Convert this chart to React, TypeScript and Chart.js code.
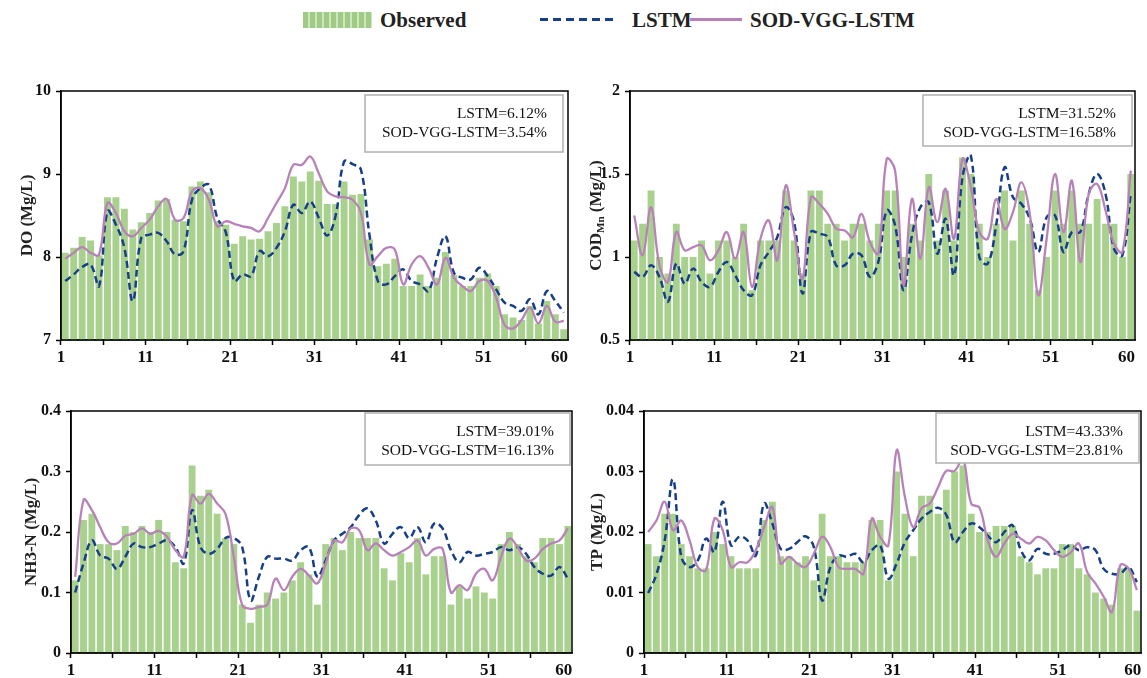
import React, { useEffect, useRef } from 'react';
import { Chart, registerables } from 'chart.js';
Chart.register(...registerables);

const categories = ['1','2','3','4','5','6','7','8','9','10','11','12','13','14','15','16','17','18','19','20','21','22','23','24','25','26','27','28','29','30','31','32','33','34','35','36','37','38','39','40','41','42','43','44','45','46','47','48','49','50','51','52','53','54','55','56','57','58','59','60'];
const xTickLabels = ['1', '11', '21', '31', '41', '51', '60'];

const doObserved = [8.05,8.11,8.24,8.2,8.02,8.72,8.72,8.58,8.33,8.42,8.53,8.68,8.7,8.45,8.43,8.85,8.91,8.78,8.43,8.39,8.16,8.25,8.21,8.22,8.31,8.41,8.61,8.97,8.91,9.03,8.92,8.64,8.64,8.91,8.75,8.76,8.21,7.89,7.92,7.98,7.65,7.65,7.79,7.65,7.75,8.06,7.78,7.65,7.65,7.75,7.8,7.65,7.31,7.27,7.24,7.41,7.2,7.47,7.31,7.13];
const doLSTM = [7.71,7.79,7.88,7.91,7.65,8.55,8.39,8.11,7.47,8.23,8.27,8.29,8.19,8.03,8.07,8.69,8.83,8.87,8.47,8.3,7.71,7.79,7.77,8.07,8.01,8.11,8.31,8.63,8.53,8.67,8.47,8.26,8.5,9.15,9.12,9.05,8.27,7.71,7.67,7.77,7.85,7.71,7.67,7.59,7.99,8.25,7.81,7.75,7.73,7.87,7.77,7.61,7.45,7.41,7.35,7.49,7.31,7.59,7.47,7.33];
const doSOD = [7.98,8.05,8.12,8.05,8.03,8.65,8.53,8.31,8.25,8.35,8.45,8.61,8.7,8.45,8.47,8.79,8.83,8.69,8.37,8.43,8.4,8.37,8.35,8.31,8.47,8.65,8.83,9.11,9.11,9.21,9.01,8.79,8.73,8.72,8.69,8.53,7.91,8.01,8.11,8.09,7.67,7.91,8.01,7.87,7.67,7.99,7.75,7.65,7.59,7.71,7.71,7.51,7.18,7.14,7.24,7.39,7.2,7.41,7.22,7.23];

const codObserved = [1.1,1.2,1.4,1.0,0.9,1.2,1.0,1.0,1.1,0.9,1.1,1.1,1.0,1.2,0.8,1.1,1.1,1.1,1.4,1.1,0.9,1.4,1.4,1.2,1.2,1.1,1.2,1.2,1.1,1.2,1.4,1.4,1.0,1.2,1.1,1.5,1.1,1.4,1.1,1.6,1.5,1.2,1.0,1.2,1.4,1.1,1.4,1.2,0.8,1.0,1.4,1.2,1.4,1.2,1.2,1.35,1.2,1.2,1.0,1.5];
const codLSTM = [0.91,0.88,0.95,0.88,0.73,0.96,0.84,0.93,0.85,0.82,0.91,0.97,0.89,0.8,0.77,0.95,1.03,1.12,1.3,1.21,0.78,1.15,1.14,1.12,0.95,0.95,1.02,1.01,0.88,0.97,1.28,1.19,0.8,1.13,1.3,1.33,1.02,1.23,0.89,1.48,1.61,1.0,0.96,1.19,1.54,1.36,1.32,1.23,1.03,1.24,1.25,1.03,1.15,1.15,1.38,1.5,1.38,1.05,1.01,1.38];
const codSOD = [1.25,1.01,1.3,0.95,0.85,1.15,1.04,1.06,1.07,0.98,1.04,1.15,0.99,1.15,0.82,1.11,1.22,0.98,1.43,1.15,0.87,1.36,1.32,1.26,1.17,1.16,1.12,1.26,1.09,1.02,1.59,1.52,0.83,1.35,0.99,1.42,1.21,1.41,1.11,1.59,1.42,1.15,1.11,1.35,1.17,1.27,1.45,1.26,0.77,1.11,1.5,1.15,1.46,0.97,1.38,1.44,1.28,1.08,1.03,1.52];

const nh3Observed = [0.12,0.22,0.23,0.18,0.18,0.17,0.21,0.2,0.21,0.2,0.22,0.2,0.15,0.14,0.31,0.26,0.27,0.23,0.19,0.18,0.08,0.05,0.08,0.1,0.09,0.1,0.12,0.15,0.13,0.08,0.18,0.19,0.17,0.2,0.19,0.19,0.19,0.14,0.12,0.165,0.15,0.19,0.13,0.16,0.16,0.08,0.11,0.09,0.11,0.1,0.09,0.18,0.2,0.18,0.16,0.15,0.19,0.19,0.18,0.21];
const nh3LSTM = [0.1,0.148,0.186,0.161,0.156,0.139,0.159,0.181,0.175,0.175,0.181,0.186,0.175,0.148,0.236,0.175,0.164,0.172,0.19,0.19,0.175,0.087,0.126,0.159,0.156,0.156,0.153,0.17,0.175,0.126,0.153,0.186,0.197,0.208,0.228,0.239,0.219,0.181,0.197,0.208,0.19,0.208,0.183,0.214,0.206,0.17,0.15,0.167,0.161,0.164,0.167,0.175,0.17,0.175,0.164,0.142,0.131,0.128,0.142,0.123];
const nh3SOD = [0.126,0.253,0.236,0.208,0.183,0.181,0.194,0.197,0.206,0.197,0.202,0.192,0.17,0.159,0.261,0.247,0.263,0.247,0.23,0.159,0.079,0.073,0.076,0.08,0.123,0.104,0.126,0.139,0.128,0.115,0.148,0.186,0.183,0.206,0.203,0.17,0.181,0.17,0.161,0.167,0.175,0.186,0.161,0.172,0.172,0.1,0.112,0.104,0.131,0.139,0.12,0.159,0.189,0.175,0.153,0.156,0.172,0.181,0.186,0.206];

const tpObserved = [0.018,0.016,0.023,0.023,0.018,0.016,0.014,0.014,0.02,0.018,0.016,0.014,0.014,0.014,0.022,0.025,0.016,0.016,0.015,0.016,0.012,0.023,0.016,0.016,0.015,0.015,0.015,0.022,0.022,0.012,0.03,0.023,0.016,0.026,0.026,0.023,0.027,0.03,0.031,0.023,0.02,0.02,0.021,0.021,0.021,0.016,0.015,0.013,0.014,0.014,0.018,0.018,0.014,0.013,0.01,0.009,0.008,0.014,0.014,0.007];
const tpLSTM = [0.0099,0.013,0.0186,0.0287,0.0159,0.0142,0.0153,0.0189,0.0167,0.025,0.0178,0.0192,0.0186,0.0161,0.0247,0.0214,0.0172,0.0172,0.0183,0.0193,0.0175,0.0087,0.0142,0.0161,0.0159,0.0164,0.015,0.017,0.0178,0.0123,0.0148,0.0183,0.0203,0.0222,0.0233,0.024,0.0228,0.0183,0.02,0.0214,0.0208,0.0194,0.0183,0.02,0.0211,0.017,0.0153,0.0172,0.0164,0.0164,0.017,0.0178,0.017,0.0175,0.017,0.0139,0.0131,0.0131,0.0142,0.0117];
const tpSOD = [0.02,0.0219,0.025,0.0203,0.0219,0.0186,0.0142,0.0137,0.0222,0.0203,0.0142,0.015,0.015,0.017,0.0208,0.0241,0.0148,0.0159,0.0148,0.0142,0.0164,0.0192,0.0175,0.0142,0.0139,0.0139,0.0131,0.0222,0.0192,0.0178,0.0335,0.0258,0.0208,0.0239,0.0247,0.0274,0.0301,0.0301,0.0321,0.0247,0.024,0.0186,0.0159,0.0181,0.0197,0.0189,0.0181,0.0192,0.0186,0.017,0.0159,0.0166,0.0181,0.0134,0.0115,0.0093,0.0068,0.0145,0.014,0.0104];

const doErrors = ['LSTM=6.12%', 'SOD-VGG-LSTM=3.54%'];
const codErrors = ['LSTM=31.52%', 'SOD-VGG-LSTM=16.58%'];
const nh3Errors = ['LSTM=39.01%', 'SOD-VGG-LSTM=16.13%'];
const tpErrors = ['LSTM=43.33%', 'SOD-VGG-LSTM=23.81%'];

const SERIF = '"Liberation Serif", "Times New Roman", serif';
const GREEN = '#A9D18E';
const BLUE = '#163f88';
const MAUVE = '#b882b8';

type Part = { t: string; sub?: boolean };
type PanelCfg = {
  obs: number[]; lstm: number[]; sod: number[];
  min: number; max: number; step: number;
  rect: [number, number, number, number];
  title: Part[];
  titleOffset: number;
  errors: string[];
  box: { w: number; h: number; inset: number; top: number };
};

const panels: PanelCfg[] = [
  { obs: doObserved, lstm: doLSTM, sod: doSOD, min: 7, max: 10, step: 1, rect: [61, 91, 568, 340],
    title: [{ t: 'DO (Mg/L)' }], titleOffset: 33, errors: doErrors, box: { w: 198, h: 57, inset: 5, top: 4 } },
  { obs: codObserved, lstm: codLSTM, sod: codSOD, min: 0.5, max: 2, step: 0.5, rect: [630, 91, 1135, 340],
    title: [{ t: 'COD' }, { t: 'Mn', sub: true }, { t: ' (Mg/L)' }], titleOffset: 33, errors: codErrors, box: { w: 209, h: 51, inset: 3, top: 4 } },
  { obs: nh3Observed, lstm: nh3LSTM, sod: nh3SOD, min: 0, max: 0.4, step: 0.1, rect: [71, 411, 572, 653],
    title: [{ t: 'NH3-N (Mg/L)' }], titleOffset: 39, errors: nh3Errors, box: { w: 205, h: 52, inset: 2, top: 2 } },
  { obs: tpObserved, lstm: tpLSTM, sod: tpSOD, min: 0, max: 0.04, step: 0.01, rect: [644, 411, 1141, 653],
    title: [{ t: 'TP (Mg/L)' }], titleOffset: 46, errors: tpErrors, box: { w: 203, h: 50, inset: 2, top: 2 } },
];

function Panel({ cfg }: { cfg: PanelCfg }) {
  const ref = useRef<HTMLCanvasElement>(null);
  const [l, t, r, b] = cfg.rect;
  const W = r - l + 70;
  const H = b - t + 40;

  useEffect(() => {
    if (!ref.current) return;
    const overlay = {
      id: 'overlay',
      afterDraw(chart: any) {
        const { ctx, chartArea: a } = chart;
        ctx.save();
        ctx.strokeStyle = '#000';
        ctx.lineWidth = 1.5;
        ctx.strokeRect(a.left, a.top, a.right - a.left, a.bottom - a.top);
        const bx = a.right - cfg.box.inset - cfg.box.w;
        const by = a.top + cfg.box.top;
        ctx.fillStyle = '#fff';
        ctx.fillRect(bx, by, cfg.box.w, cfg.box.h);
        ctx.strokeStyle = '#b0b0b0';
        ctx.lineWidth = 1.5;
        ctx.strokeRect(bx, by, cfg.box.w, cfg.box.h);
        ctx.fillStyle = '#111';
        ctx.font = `15.5px ${SERIF}`;
        ctx.textAlign = 'right';
        ctx.textBaseline = 'middle';
        ctx.fillText(cfg.errors[0], bx + cfg.box.w - 16, by + 19);
        ctx.fillText(cfg.errors[1], bx + cfg.box.w - 16, by + 37.5);
        const cx = a.left - cfg.titleOffset;
        const cy = (a.top + a.bottom) / 2;
        ctx.translate(cx, cy);
        ctx.rotate(-Math.PI / 2);
        ctx.fillStyle = '#222';
        const big = `bold 17px ${SERIF}`;
        const small = `bold 11px ${SERIF}`;
        let total = 0;
        for (const p of cfg.title) {
          ctx.font = p.sub ? small : big;
          total += ctx.measureText(p.t).width;
        }
        let x = -total / 2;
        ctx.textAlign = 'left';
        for (const p of cfg.title) {
          ctx.font = p.sub ? small : big;
          ctx.fillText(p.t, x, p.sub ? 4 : 0);
          x += ctx.measureText(p.t).width;
        }
        ctx.restore();
      },
    };

    const chart = new Chart(ref.current, {
      type: 'bar',
      data: {
        labels: categories,
        datasets: [
          { type: 'line', label: 'SOD-VGG-LSTM', data: cfg.sod, borderColor: MAUVE, borderWidth: 2.3,
            pointRadius: 0, tension: 0.4, fill: false, order: 0 } as any,
          { type: 'line', label: 'LSTM', data: cfg.lstm, borderColor: BLUE, borderWidth: 2.5, borderDash: [7, 4],
            pointRadius: 0, tension: 0.4, fill: false, order: 1 } as any,
          { type: 'bar', label: 'Observed', data: cfg.obs, backgroundColor: GREEN, barPercentage: 0.82,
            categoryPercentage: 1, order: 2 } as any,
        ],
      },
      options: {
        responsive: false,
        animation: false,
        events: [],
        layout: { padding: { left: 0, right: 10, top: 10, bottom: 0 } },
        plugins: { legend: { display: false }, tooltip: { enabled: false } },
        scales: {
          x: {
            type: 'category',
            offset: true,
            grid: {
              offset: true,
              drawOnChartArea: false,
              drawTicks: true,
              tickLength: 5,
              tickWidth: 1.5,
              tickColor: (c: any) => (c.index % 5 === 0 ? '#000' : 'rgba(0,0,0,0)'),
            },
            border: { display: true, color: '#000', width: 1.5 },
            ticks: {
              autoSkip: false,
              maxRotation: 0,
              minRotation: 0,
              padding: 2,
              labelOffset: -4.2,
              color: '#111',
              font: { family: SERIF, size: 17, weight: 'bold' },
              callback: (_v: any, i: number) => (xTickLabels.includes(categories[i]) ? categories[i] : ''),
            },
            afterFit: (s: any) => { s.height = 30; s.paddingLeft = 0; s.paddingRight = 0; },
          },
          y: {
            min: cfg.min,
            max: cfg.max,
            grid: { drawOnChartArea: false, drawTicks: true, tickLength: 5, tickWidth: 1.5, tickColor: '#000' },
            border: { display: true, color: '#000', width: 1.5 },
            ticks: {
              stepSize: cfg.step,
              padding: 5,
              color: '#111',
              font: { family: SERIF, size: 16, weight: 'bold' },
              callback: (v: any) => String(Math.round(Number(v) * 10000) / 10000),
            },
            afterFit: (s: any) => { s.width = 60; s.paddingTop = 0; s.paddingBottom = 0; },
          },
        },
      } as any,
      plugins: [overlay],
    });
    return () => chart.destroy();
  }, []);

  return (
    <canvas
      ref={ref}
      width={W}
      height={H}
      style={{ position: 'absolute', left: l - 60, top: t - 10, width: W, height: H }}
    />
  );
}

export default function App() {
  const legendText: React.CSSProperties = {
    position: 'absolute', top: 8, fontFamily: SERIF, fontWeight: 'bold', fontSize: 21, lineHeight: '24px', color: '#222',
  };
  return (
    <div style={{ position: 'fixed', left: 0, top: 0, width: 1147, height: 678, background: '#fff', overflow: 'hidden' }}>
      <div style={{ position: 'absolute', left: 303, top: 12, width: 69, height: 16,
        background: `repeating-linear-gradient(90deg, #9fcb85 0px, #9fcb85 5px, #cfe5c0 5px, #cfe5c0 7px)` }} />
      <div style={{ ...legendText, left: 380 }}>Observed</div>
      <div style={{ position: 'absolute', left: 540, top: 18, width: 78, height: 3,
        background: `repeating-linear-gradient(90deg, ${BLUE} 0px, ${BLUE} 8px, transparent 8px, transparent 13px)` }} />
      <div style={{ ...legendText, left: 632 }}>LSTM</div>
      <div style={{ position: 'absolute', left: 690, top: 18, width: 52, height: 3, background: MAUVE }} />
      <div style={{ ...legendText, left: 750 }}>SOD-VGG-LSTM</div>
      {panels.map((p, i) => <Panel key={i} cfg={p} />)}
    </div>
  );
}
